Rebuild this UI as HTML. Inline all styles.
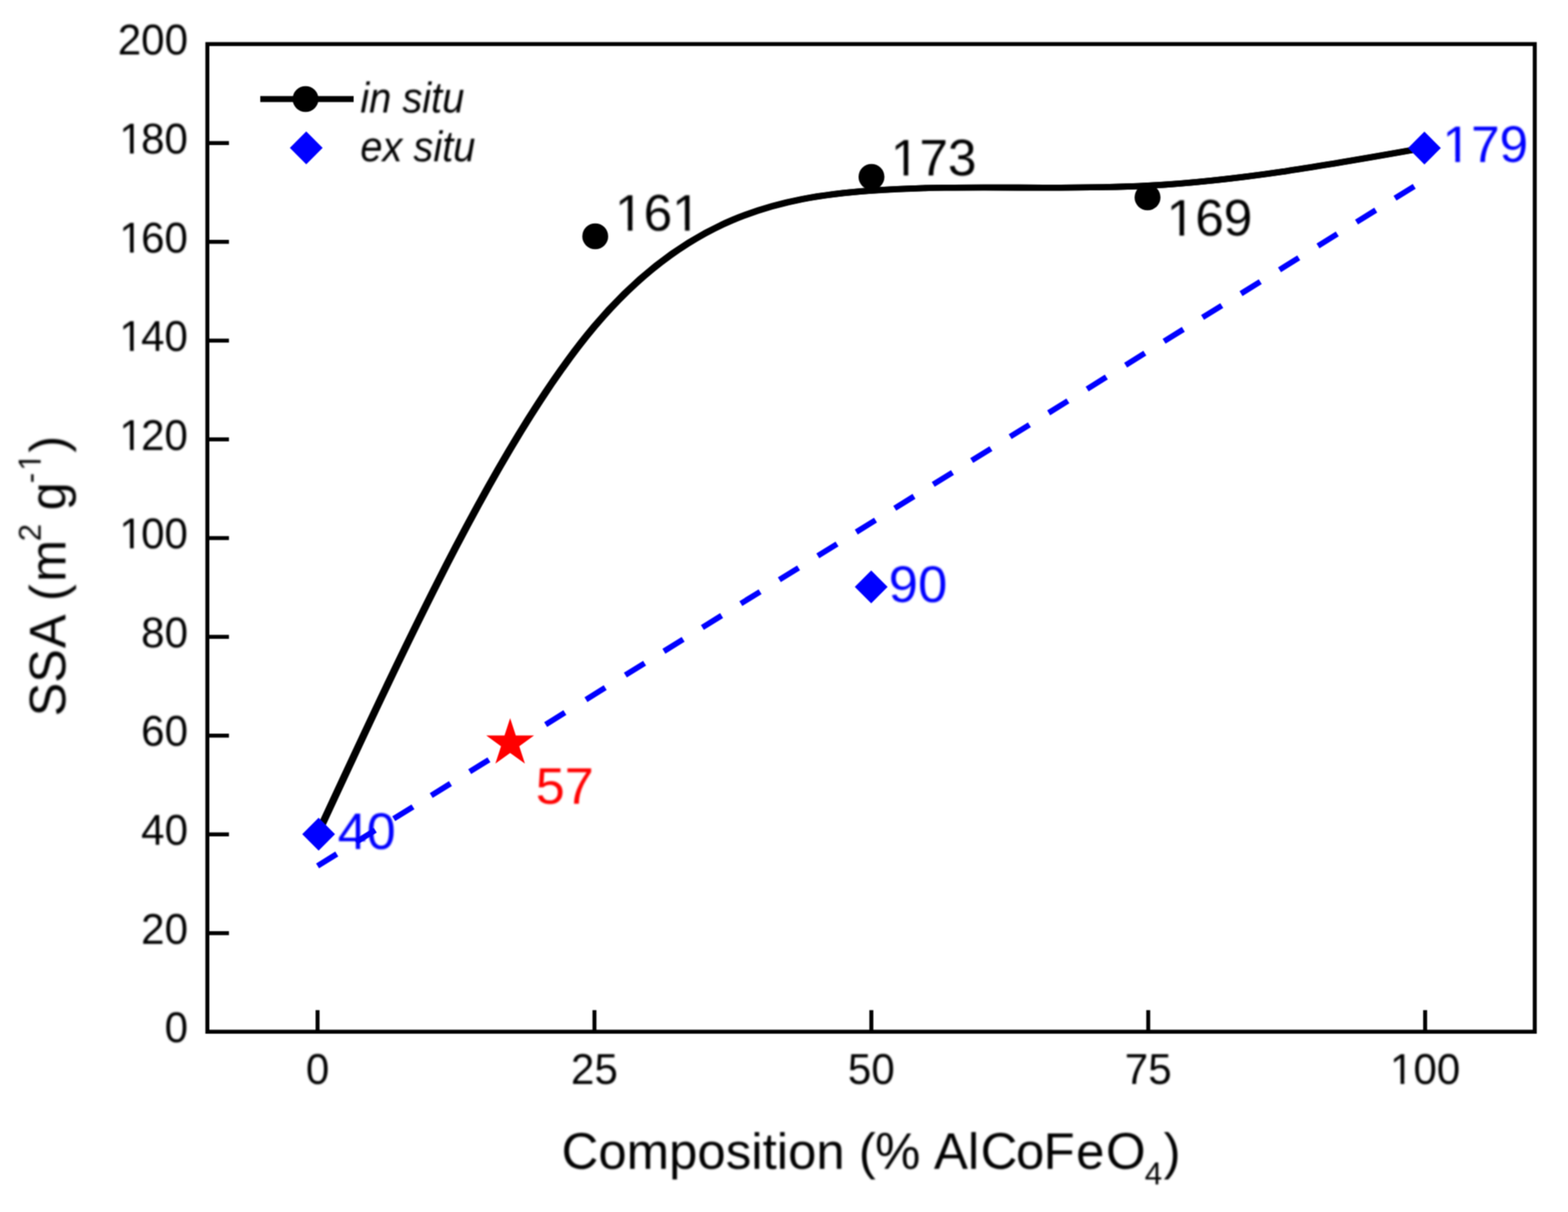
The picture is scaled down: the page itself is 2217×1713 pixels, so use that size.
<!DOCTYPE html>
<html lang="en">
<head>
<meta charset="utf-8">
<title>SSA vs Composition</title>
<style>
html,body{margin:0;padding:0;background:#fff;}
body{width:2217px;height:1713px;overflow:hidden;}
svg{display:block;}
text{font-family:"Liberation Sans", Arial, Helvetica, sans-serif;stroke:#fff;stroke-width:0px;stroke-linejoin:round;}
</style>
</head>
<body>
<svg width="2217" height="1713" viewBox="0 0 2217 1713">
<defs><filter id="tsoft" x="0" y="0" width="2217" height="1713" filterUnits="userSpaceOnUse" color-interpolation-filters="sRGB"><feGaussianBlur stdDeviation="1"/></filter><filter id="soft" x="0" y="0" width="2217" height="1713" filterUnits="userSpaceOnUse" color-interpolation-filters="sRGB"><feConvolveMatrix order="3" kernelMatrix="1 2 1 2 4 2 1 2 1" divisor="16" edgeMode="duplicate" preserveAlpha="true"/></filter></defs>
<g filter="url(#soft)">
<rect width="2217" height="1713" fill="#ffffff"/>
<g filter="url(#tsoft)">
<text id="t1" clip-path="url(#ct1)" transform="translate(869.5,326) scale(0.995,1)" font-size="73" text-anchor="start" fill="#000000" style="stroke-width:0px">161</text>
<text id="t2" clip-path="url(#ct2)" transform="translate(1259.5,248) scale(0.995,1)" font-size="73" text-anchor="start" fill="#000000" style="stroke-width:0px">173</text>
<text id="t3" clip-path="url(#ct3)" transform="translate(1649.5,333) scale(0.995,1)" font-size="73" text-anchor="start" fill="#000000" style="stroke-width:0px">169</text>
<text id="t4" clip-path="url(#ct4)" transform="translate(2039.5,229) scale(0.995,1)" font-size="73" text-anchor="start" fill="#0000ff" style="stroke-width:0px">179</text>
<text id="t5" transform="translate(1256.5,850.5) scale(1.02,1)" font-size="73" text-anchor="start" fill="#0000ff" style="stroke-width:0px">90</text>
<text id="t6" transform="translate(477.5,1199.5) scale(1.01,1)" font-size="73" text-anchor="start" fill="#0000ff" style="stroke-width:0px">40</text>
<text id="t7" transform="translate(757.5,1135.5) scale(1.01,1)" font-size="73" text-anchor="start" fill="#ff0000" style="stroke-width:0px">57</text>
</g>
<g fill="none" stroke="#000" stroke-width="8.6" stroke-linejoin="round"><path transform="translate(-1,0)" d="M449.0,1179.0 C579.5,897.5 710.0,616.0 840.5,461.3 C971.0,306.6 1101.5,278.7 1232.0,269.4 C1362.5,260.1 1493.0,269.4 1623.5,262.4 C1754.0,255.4 1884.5,232.1 2015.0,208.9"/><path transform="translate(1,0)" d="M449.0,1179.0 C579.5,897.5 710.0,616.0 840.5,461.3 C971.0,306.6 1101.5,278.7 1232.0,269.4 C1362.5,260.1 1493.0,269.4 1623.5,262.4 C1754.0,255.4 1884.5,232.1 2015.0,208.9"/></g>
<path d="M449.0,1223.9L476.2,1207.0 M503.4,1190.2L530.6,1173.3 M556.7,1157.2L583.9,1140.3 M609.7,1124.3L636.9,1107.5 M664.1,1090.6L691.3,1073.8 M771.5,1024.1L798.7,1007.2 M828.5,988.8L855.7,971.9 M884.2,954.2L911.4,937.4 M938.7,920.5L965.9,903.7 M993.1,886.8L1020.3,870.0 M1047.5,853.1L1074.7,836.3 M1101.9,819.4L1129.1,802.6 M1156.3,785.7L1183.5,768.9 M1210.7,752.0L1237.9,735.2 M1265.1,718.3L1292.3,701.5 M1319.5,684.6L1346.7,667.8 M1373.9,650.9L1401.1,634.1 M1428.3,617.2L1455.5,600.3 M1482.7,583.5L1509.9,566.6 M1537.1,549.8L1564.3,532.9 M1591.5,516.1L1618.7,499.2 M1645.9,482.4L1673.1,465.5 M1700.3,448.7L1727.5,431.8 M1754.7,415.0L1781.9,398.1 M1809.1,381.3L1836.3,364.4 M1863.5,347.6L1890.8,330.7 M1918.0,313.9L1945.2,297.0 M1972.4,280.2L1999.6,263.3" fill="none" stroke="#0000ff" stroke-width="8.0"/>
<rect x="293.2" y="62.3" width="1876.8" height="1395.9" fill="none" stroke="#000" stroke-width="5.6"/>
<line x1="293.2" y1="1318.9" x2="323.7" y2="1318.9" stroke="#000" stroke-width="5.6"/>
<line x1="293.2" y1="1179.3" x2="323.7" y2="1179.3" stroke="#000" stroke-width="5.6"/>
<line x1="293.2" y1="1039.7" x2="323.7" y2="1039.7" stroke="#000" stroke-width="5.6"/>
<line x1="293.2" y1="900.1" x2="323.7" y2="900.1" stroke="#000" stroke-width="5.6"/>
<line x1="293.2" y1="760.5" x2="323.7" y2="760.5" stroke="#000" stroke-width="5.6"/>
<line x1="293.2" y1="621.0" x2="323.7" y2="621.0" stroke="#000" stroke-width="5.6"/>
<line x1="293.2" y1="481.4" x2="323.7" y2="481.4" stroke="#000" stroke-width="5.6"/>
<line x1="293.2" y1="341.8" x2="323.7" y2="341.8" stroke="#000" stroke-width="5.6"/>
<line x1="293.2" y1="202.2" x2="323.7" y2="202.2" stroke="#000" stroke-width="5.6"/>
<line x1="449.0" y1="1458.2" x2="449.0" y2="1427.7" stroke="#000" stroke-width="5.6"/>
<line x1="840.5" y1="1458.2" x2="840.5" y2="1427.7" stroke="#000" stroke-width="5.6"/>
<line x1="1232.0" y1="1458.2" x2="1232.0" y2="1427.7" stroke="#000" stroke-width="5.6"/>
<line x1="1623.5" y1="1458.2" x2="1623.5" y2="1427.7" stroke="#000" stroke-width="5.6"/>
<line x1="2015.0" y1="1458.2" x2="2015.0" y2="1427.7" stroke="#000" stroke-width="5.6"/>
<g filter="url(#tsoft)">
<text id="t8" transform="translate(509.5,159) scale(0.93,1)" font-size="60.5" text-anchor="start" fill="#000000" font-style="italic" style="stroke-width:0px">in situ</text>
<text id="t9" transform="translate(509.5,227.5) scale(0.93,1)" font-size="60.5" text-anchor="start" fill="#000000" font-style="italic" style="stroke-width:0px">ex situ</text>
<text id="t10" transform="translate(265.8,1473.2) scale(0.985,1)" font-size="60.5" text-anchor="end" fill="#000000">0</text>
<text id="t11" transform="translate(265.8,1333.6) scale(0.985,1)" font-size="60.5" text-anchor="end" fill="#000000">20</text>
<text id="t12" transform="translate(265.8,1194.0) scale(0.985,1)" font-size="60.5" text-anchor="end" fill="#000000">40</text>
<text id="t13" transform="translate(265.8,1054.4) scale(0.985,1)" font-size="60.5" text-anchor="end" fill="#000000">60</text>
<text id="t14" transform="translate(265.8,914.8) scale(0.985,1)" font-size="60.5" text-anchor="end" fill="#000000">80</text>
<text id="t15" clip-path="url(#ct15)" transform="translate(263.3,775.2) scale(0.985,1)" font-size="60.5" text-anchor="end" fill="#000000" dx="2.5 -2.5">100</text>
<text id="t16" clip-path="url(#ct16)" transform="translate(263.3,635.7) scale(0.985,1)" font-size="60.5" text-anchor="end" fill="#000000" dx="2.5 -2.5">120</text>
<text id="t17" clip-path="url(#ct17)" transform="translate(263.3,496.1) scale(0.985,1)" font-size="60.5" text-anchor="end" fill="#000000" dx="2.5 -2.5">140</text>
<text id="t18" clip-path="url(#ct18)" transform="translate(263.3,356.5) scale(0.985,1)" font-size="60.5" text-anchor="end" fill="#000000" dx="2.5 -2.5">160</text>
<text id="t19" clip-path="url(#ct19)" transform="translate(263.3,216.9) scale(0.985,1)" font-size="60.5" text-anchor="end" fill="#000000" dx="2.5 -2.5">180</text>
<text id="t20" transform="translate(265.8,77.3) scale(0.985,1)" font-size="60.5" text-anchor="end" fill="#000000">200</text>
<text id="t21" transform="translate(449.0,1532) scale(0.985,1)" font-size="60.5" text-anchor="middle" fill="#000000">0</text>
<text id="t22" transform="translate(840.5,1532) scale(0.985,1)" font-size="60.5" text-anchor="middle" fill="#000000">25</text>
<text id="t23" transform="translate(1232.0,1532) scale(0.985,1)" font-size="60.5" text-anchor="middle" fill="#000000">50</text>
<text id="t24" transform="translate(1623.5,1532) scale(0.985,1)" font-size="60.5" text-anchor="middle" fill="#000000">75</text>
<text id="t25" clip-path="url(#ct25)" transform="translate(2015.0,1532) scale(0.985,1)" font-size="60.5" text-anchor="middle" fill="#000000">100</text>
<text id="t26" transform="translate(794,1651.5) scale(1.0,1)" font-size="72" fill="#000" style="stroke-width:0"><tspan dx="0 0 0 0 0 0 0 0 0 0 0 0 0 -1 0 3.1 0 2.1 -2.1 -1.1 2.2 2.1">Composition (% AlCoFeO</tspan><tspan font-size="44.5" dx="-1.3" dy="22">4</tspan><tspan dx="2" dy="-22">)</tspan></text>
<text id="t27" clip-path="url(#ct27)" transform="translate(92.5,1012.5) rotate(-90) scale(0.99,1)" font-size="72" fill="#000" style="stroke-width:0"><tspan dx="0 0 1.4 3.1 0 3.3">SSA (m</tspan><tspan font-size="44.5" dx="-1.8" dy="-35">2</tspan><tspan dy="35" dx="-0.7 0"> g</tspan><tspan font-size="44.5" dx="-1.3 3" dy="-35">-1</tspan><tspan dy="35" dx="1">)</tspan></text>
</g>
<circle cx="841.6" cy="334" r="18.3" fill="#000"/>
<circle cx="1232.2" cy="250" r="18.3" fill="#000"/>
<circle cx="1622.5" cy="279" r="18.3" fill="#000"/>
<polygon points="450.5,1155.8 473.7,1179 450.5,1202.2 427.3,1179" fill="#0000ff"/>
<polygon points="1231.8,806.3 1255.0,829.5 1231.8,852.7 1208.6,829.5" fill="#0000ff"/>
<polygon points="2014,186.10000000000002 2037.2,209.3 2014,232.5 1990.8,209.3" fill="#0000ff"/>
<polygon points="721.3,1015.1 729.3,1039.6 755.1,1039.6 734.2,1054.8 742.2,1079.3 721.3,1064.2 700.4,1079.3 708.4,1054.8 687.5,1039.6 713.3,1039.6" fill="#ff0000"/>
<line x1="368" y1="140" x2="500" y2="140" stroke="#000" stroke-width="8.6"/>
<circle cx="432" cy="140" r="18.3" fill="#000"/>
<polygon points="433,185.8 456.2,209 433,232.2 409.8,209" fill="#0000ff"/>
</g>
<defs>
<clipPath id="ct1" clipPathUnits="userSpaceOnUse"><path clip-rule="evenodd" d="M-4000,-4000H4000V4000H-4000Z M3.56,-6.95H18.36V3.00H3.56Z M24.81,-6.95H39.04V3.00H24.81Z M84.73,-6.95H99.53V3.00H84.73Z M105.98,-6.95H120.21V3.00H105.98Z"/></clipPath>
<clipPath id="ct2" clipPathUnits="userSpaceOnUse"><path clip-rule="evenodd" d="M-4000,-4000H4000V4000H-4000Z M3.56,-6.95H18.36V3.00H3.56Z M24.81,-6.95H39.04V3.00H24.81Z"/></clipPath>
<clipPath id="ct3" clipPathUnits="userSpaceOnUse"><path clip-rule="evenodd" d="M-4000,-4000H4000V4000H-4000Z M3.56,-6.95H18.36V3.00H3.56Z M24.81,-6.95H39.04V3.00H24.81Z"/></clipPath>
<clipPath id="ct4" clipPathUnits="userSpaceOnUse"><path clip-rule="evenodd" d="M-4000,-4000H4000V4000H-4000Z M3.56,-6.95H18.36V3.00H3.56Z M24.81,-6.95H39.04V3.00H24.81Z"/></clipPath>
<clipPath id="ct15" clipPathUnits="userSpaceOnUse"><path clip-rule="evenodd" d="M-4000,-4000H4000V4000H-4000Z M-93.32,-6.02H-80.71V3.00H-93.32Z M-75.37,-6.02H-63.24V3.00H-75.37Z"/></clipPath>
<clipPath id="ct16" clipPathUnits="userSpaceOnUse"><path clip-rule="evenodd" d="M-4000,-4000H4000V4000H-4000Z M-93.32,-6.02H-80.71V3.00H-93.32Z M-75.37,-6.02H-63.24V3.00H-75.37Z"/></clipPath>
<clipPath id="ct17" clipPathUnits="userSpaceOnUse"><path clip-rule="evenodd" d="M-4000,-4000H4000V4000H-4000Z M-93.32,-6.02H-80.71V3.00H-93.32Z M-75.37,-6.02H-63.24V3.00H-75.37Z"/></clipPath>
<clipPath id="ct18" clipPathUnits="userSpaceOnUse"><path clip-rule="evenodd" d="M-4000,-4000H4000V4000H-4000Z M-93.32,-6.02H-80.71V3.00H-93.32Z M-75.37,-6.02H-63.24V3.00H-75.37Z"/></clipPath>
<clipPath id="ct19" clipPathUnits="userSpaceOnUse"><path clip-rule="evenodd" d="M-4000,-4000H4000V4000H-4000Z M-93.32,-6.02H-80.71V3.00H-93.32Z M-75.37,-6.02H-63.24V3.00H-75.37Z"/></clipPath>
<clipPath id="ct25" clipPathUnits="userSpaceOnUse"><path clip-rule="evenodd" d="M-4000,-4000H4000V4000H-4000Z M-47.86,-6.02H-35.25V3.00H-47.86Z M-29.91,-6.02H-17.77V3.00H-29.91Z"/></clipPath>
<clipPath id="ct27" clipPathUnits="userSpaceOnUse"><path clip-rule="evenodd" d="M-4000,-4000H4000V4000H-4000Z M352.06,-39.82H361.86V-32.00H352.06Z M365.79,-39.82H375.24V-32.00H365.79Z"/></clipPath>
</defs>
</svg>
</body>
</html>
